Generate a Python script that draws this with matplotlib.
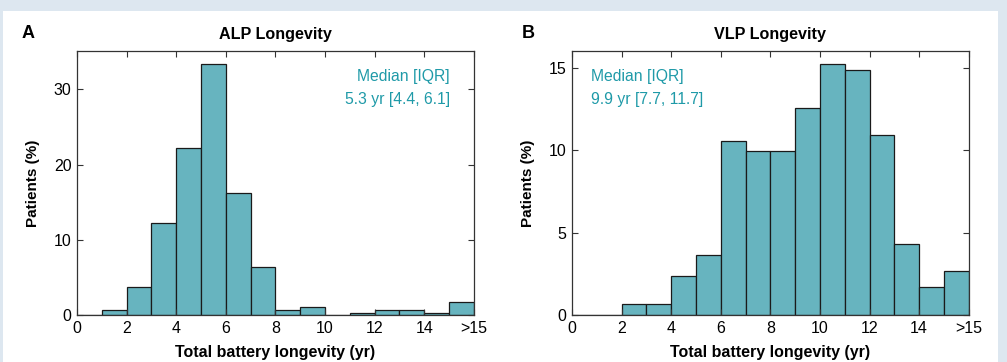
import matplotlib; matplotlib.use("Agg")
import matplotlib.pyplot as plt
from matplotlib.patches import Rectangle

plt.rcParams["font.family"] = ["Liberation Sans", "DejaVu Sans"]

# bins: 0-1, 1-2, ..., 14-15, >15
bin_left = list(range(16))
alp_pct = [0, 0.62, 3.68, 12.27, 22.2, 33.45, 16.26, 6.34, 0.62, 1.02, 0, 0.31, 0.62, 0.62, 0.31, 1.68]
vlp_pct = [0, 0, 0.665, 0.665, 2.34, 3.63, 10.58, 9.92, 9.92, 12.56, 15.22, 14.88, 10.91, 4.29, 1.67, 2.64]
xtick_pos = [0, 2, 4, 6, 8, 10, 12, 14, 16]
xtick_lab = ["0", "2", "4", "6", "8", "10", "12", "14", ">15"]

FILL = "#67b4bf"; TXT = "#1f9aa8"; BG = "#dde7f0"

fig = plt.figure(figsize=(10.07, 3.62), dpi=100, facecolor=BG)
fig.patches.append(Rectangle((3/1007, 0), 995/1007, 351/362, transform=fig.transFigure,
                             facecolor="white", edgecolor="none", zorder=-10))

panels = [
    (0.0765, 28, alp_pct, "ALP Longevity", "A", 35.1, [0, 10, 20, 30], ("Median [IQR]", "5.3 yr [4.4, 6.1]"), "right"),
    (0.568, 528, vlp_pct, "VLP Longevity", "B", 16.0, [0, 5, 10, 15], ("Median [IQR]", "9.9 yr [7.7, 11.7]"), "left"),
]
for x0, lx, vals, title, letter, ytop, yt, note, ha in panels:
    ax = fig.add_axes([x0, 0.1298, 0.394, 0.729])
    ax.set_zorder(5)
    ax.bar(bin_left, vals, width=1, align="edge", color=FILL, edgecolor="#1a1a1a", lw=0.9)
    ax.set_xlim(0, 16); ax.set_ylim(0, ytop)
    ax.set_xticks(xtick_pos); ax.set_xticklabels(xtick_lab)
    ax.set_yticks(yt)
    ax.tick_params(direction="in", top=True, right=True, labelsize=11.5, length=4, width=0.8, color="#333333", pad=4)
    for s in ax.spines.values():
        s.set_color("#333333"); s.set_linewidth(0.9)
    ax.set_title(title, fontsize=11.6, fontweight="bold", pad=9)
    ax.set_xlabel("Total battery longevity (yr)", fontsize=11.5, fontweight="bold", labelpad=7)
    ax.set_ylabel("Patients (%)", fontsize=11, fontweight="bold", labelpad=10)
    tx = 0.94 if ha == "right" else 0.048
    ax.text(tx, 0.905, note[0], transform=ax.transAxes, ha=ha, va="center", color=TXT, fontsize=11.3)
    ax.text(tx, 0.815, note[1], transform=ax.transAxes, ha=ha, va="center", color=TXT, fontsize=11.3)
    fig.text(lx / 1007, 1 - 33/362, letter, fontsize=13, fontweight="bold", ha="center", va="center")

fig.savefig("out.png", dpi=100, facecolor=BG)
